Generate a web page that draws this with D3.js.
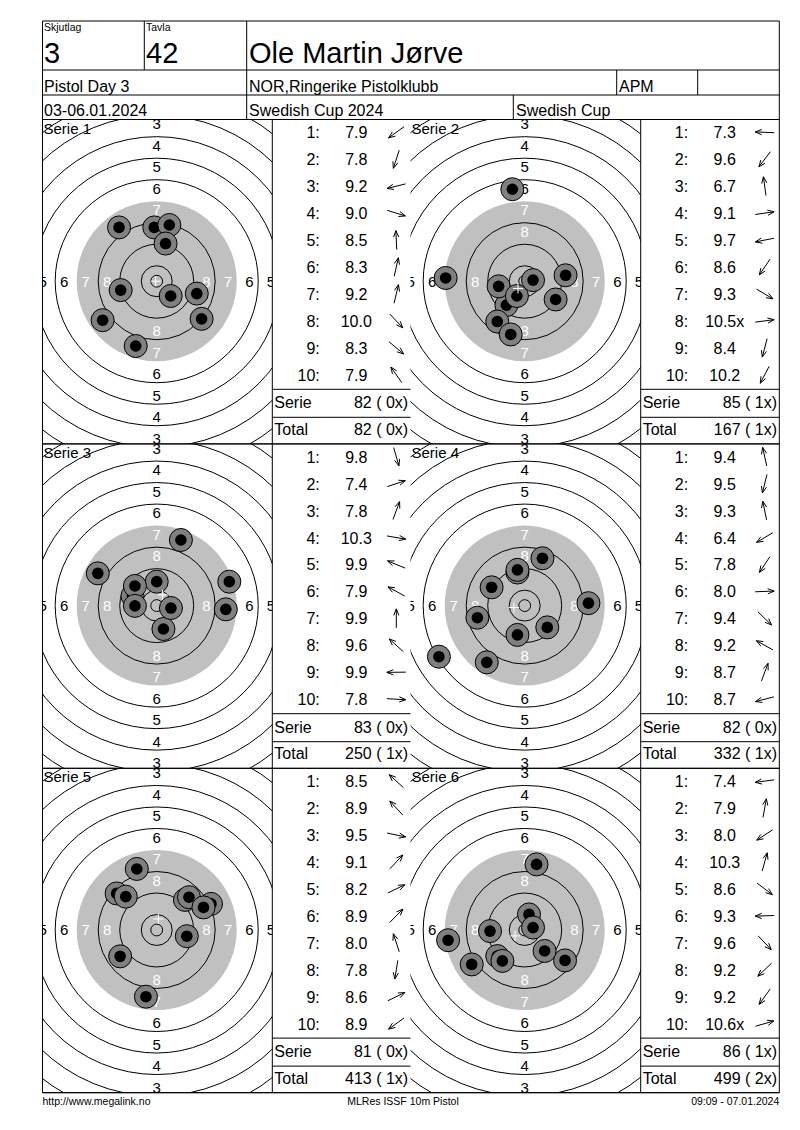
<!DOCTYPE html>
<html>
<head>
<meta charset="utf-8">
<script src="https://cdn.jsdelivr.net/npm/d3@7"></script>
<style>
body { margin: 0; background: #fff; }
svg { display: block; font-family: "Liberation Sans", Arial, sans-serif; }
</style>
</head>
<body>
<svg id="card" width="800" height="1130"></svg>
<script>
// header / footer texts
var squadLabel = "Skjutlag", squad = "3";
var laneLabel = "Tavla", lane = "42";
var shooter = "Ole Martin Jørve";
var matchName = "Pistol Day 3", club = "NOR,Ringerike Pistolklubb", shooterClass = "APM";
var dates = "03-06.01.2024", competition = "Swedish Cup 2024", cup = "Swedish Cup";
var footer = ["http://www.megalink.no", "MLRes ISSF 10m Pistol", "09:09 - 07.01.2024"];

// decimal score of each shot, per serie
var scores = [
  [7.9, 7.8, 9.2, 9.0, 8.5, 8.3, 9.2, 10.0, 8.3, 7.9],
  [7.3, 9.6, 6.7, 9.1, 9.7, 8.6, 9.3, 10.5, 8.4, 10.2],
  [9.8, 7.4, 7.8, 10.3, 9.9, 7.9, 9.9, 9.6, 9.9, 7.8],
  [9.4, 9.5, 9.3, 6.4, 7.8, 8.0, 9.4, 9.2, 8.7, 8.7],
  [8.5, 8.9, 9.5, 9.1, 8.2, 8.9, 8.0, 7.8, 8.6, 8.9],
  [7.4, 7.9, 8.0, 10.3, 8.6, 9.3, 9.6, 9.2, 9.2, 10.6]
];
// shots that are inner tens (shot numbers)
var innerTens = [[], [8], [], [], [], [10]];

// shot positions in mm from the centre (x right, y up)
var shotX = [
  [-20.1, -7.8, -13.4, 14.9, -0.9, 4.7, 3.3, 5.2, 16.7, -14.0],
  [-29.4, -6.8, -4.6, 15.2, -9.7, -10.2, 11.5, 3.1, -5.2, -2.9],
  [2.5, 27.0, 9.0, 5.3, -9.0, -21.9, 0.0, -8.1, -8.1, 25.7],
  [-2.7, -2.7, -2.7, -31.9, -14.1, 23.7, 8.4, -12.3, 6.6, -17.6],
  [-14.9, -11.5, 11.2, 10.5, 20.2, 12.0, -7.4, -4.0, 17.4, -13.6],
  [-28.5, 4.4, -19.7, 1.6, 15.0, -12.9, 7.4, -10.2, -8.3, 3.1]
];
var shotY = [
  [-14.5, -24.1, -3.3, -4.6, 20.0, 20.9, 14.0, -5.5, -14.0, 20.0],
  [1.2, -8.9, 34.2, 2.2, -1.9, -15.0, -6.8, 0.4, -19.8, -5.5],
  [-8.7, 8.9, 24.4, -0.9, 3.7, 12.0, 8.9, 7.3, -0.1, -1.4],
  [12.3, -10.9, 13.3, -19.0, -21.1, 0.9, -8.1, 6.8, 17.6, -4.5],
  [13.6, 12.4, -2.3, 11.2, 9.7, 12.2, 22.7, -24.8, 8.4, -9.8],
  [-3.8, 24.4, -12.8, 5.8, -11.3, -0.4, -7.8, -9.7, -11.5, 0.9]
];
// group centre cross, mm
var groupX = [-0.4, -2.5, 2.2, -4.0, 0.6, -3.6];
var groupY = [0.0, -2.7, 4.0, -0.7, 4.1, -2.2];

// ISSF 10m air pistol rings
var rings = [1, 2, 3, 4, 5, 6, 7, 8, 9, 10];
var ringLabels = [1, 2, 3, 4, 5, 6, 7, 8];
var blackFrom = 7;
function ringRadius(k) { return 5.75 + 8 * (10 - k); }

var svg = d3.select("#card");
var L = 42.5, R = 779.3;
var headY = [21, 70, 95, 119.5];
var panelTop = d3.scaleLinear().domain([0, 3]).range([119.5, 1092.7]);
var cols = [{t0: 42.5, t1: 272.3, b1: 410.5}, {t0: 410.5, t1: 640.7, b1: 779.3}];
var mm = d3.scaleLinear().domain([0, ringRadius(blackFrom)]).range([0, 80]);
var fmt = d3.format(".1f");

var defs = svg.append("defs");
var targets = svg.append("g");
var lines = svg.append("g").attr("stroke", "#000").attr("stroke-width", 1);
var texts = svg.append("g").attr("fill", "#000");

function hline(x1, x2, y) { lines.append("line").attr("x1", x1).attr("x2", x2).attr("y1", y).attr("y2", y); }
function vline(x, y1, y2) { lines.append("line").attr("x1", x).attr("x2", x).attr("y1", y1).attr("y2", y2); }
function txt(x, y, s, size, anchor) {
  return texts.append("text").attr("x", x).attr("y", y).attr("font-size", size)
    .attr("text-anchor", anchor || "start").text(s);
}

// header
svg.insert("rect", ":first-child").attr("width", 800).attr("height", 1130).attr("fill", "#fff");
headY.forEach(function(y) { hline(L, R, y); });
vline(L, headY[0], 1092.7); vline(R, headY[0], 1092.7);
vline(144.3, headY[0], headY[1]); vline(246.7, headY[0], headY[3]);
vline(616.7, headY[1], headY[2]); vline(697.7, headY[1], headY[2]);
vline(513.3, headY[2], headY[3]);
txt(44, 31, squadLabel, 10.5); txt(44, 63.3, squad, 29);
txt(146, 31, laneLabel, 10.5); txt(146, 63.3, lane, 29);
txt(249, 63.3, shooter, 29);
txt(44, 91.5, matchName, 16); txt(249, 91.5, club, 16); txt(619, 91.5, shooterClass, 16);
txt(44, 115.5, dates, 16); txt(249, 115.5, competition, 16); txt(516, 115.5, cup, 16);

// footer
txt(42.5, 1105, footer[0], 10.5);
txt(403, 1105, footer[1], 10.5, "middle");
txt(R, 1105, footer[2], 10.5, "end");

var total = 0, totalX = 0;
scores.forEach(function(sc, s) {
  var col = cols[s % 2];
  var row = Math.floor(s / 2);
  var y0 = panelTop(row), y1 = panelTop(row + 1);
  var cx = col.t0 + 114.2, cy = (y0 + y1) / 2 - 0.5;
  var x = d3.scaleLinear().domain([-1, 1]).range([cx - mm(1), cx + mm(1)]);
  var y = d3.scaleLinear().domain([-1, 1]).range([cy + mm(1), cy - mm(1)]);

  defs.append("clipPath").attr("id", "clip" + s).append("rect")
    .attr("x", col.t0).attr("y", y0).attr("width", col.t1 - col.t0).attr("height", y1 - y0);
  var g = targets.append("g").attr("clip-path", "url(#clip" + s + ")");

  // target
  g.append("circle").attr("cx", cx).attr("cy", cy).attr("r", mm(ringRadius(blackFrom))).attr("fill", "#c0c0c0");
  g.selectAll("circle.ring").data(rings.filter(function(k) { return k != blackFrom; }))
    .enter().append("circle").attr("class", "ring")
    .attr("cx", cx).attr("cy", cy).attr("r", function(k) { return mm(ringRadius(k)); })
    .attr("fill", "none").attr("stroke", "#000");
  g.append("circle").attr("cx", cx).attr("cy", cy).attr("r", mm(2.2)).attr("fill", "none").attr("stroke", "#000");

  var labelPos = [];
  ringLabels.forEach(function(k) {
    var d = ringRadius(k) - 3.3;
    [[-d, 0], [d, 0], [0, d], [0, -d]].forEach(function(p) { labelPos.push({k: k, x: p[0], y: p[1]}); });
  });
  g.selectAll("text.lab").data(labelPos).enter().append("text").attr("class", "lab")
    .attr("x", function(d) { return x(d.x); }).attr("y", function(d) { return y(d.y); })
    .attr("dy", "0.36em").attr("text-anchor", "middle").attr("font-size", 15)
    .attr("fill", function(d) { return d.k >= blackFrom ? "#fff" : "#000"; })
    .text(function(d) { return d.k; });

  // shots
  var shots = sc.map(function(v, i) { return {n: i + 1, v: v, x: shotX[s][i], y: shotY[s][i]}; });
  var sg = g.selectAll("g.shot").data(shots).enter().append("g").attr("class", "shot");
  sg.append("circle").attr("cx", function(d) { return x(d.x); }).attr("cy", function(d) { return y(d.y); })
    .attr("r", mm(4.28)).attr("fill", "#808080").attr("stroke", "#000");
  sg.append("circle").attr("cx", function(d) { return x(d.x); }).attr("cy", function(d) { return y(d.y); })
    .attr("r", mm(2.16)).attr("fill", "#000");

  // group centre
  var gx = x(groupX[s]), gy = y(groupY[s]);
  g.append("path").attr("d", "M" + (gx - 5) + "," + gy + "H" + (gx + 5) + "M" + gx + "," + (gy - 5) + "V" + (gy + 5))
    .attr("stroke", "#fff").attr("fill", "none");

  g.append("text").attr("x", col.t0 + 1).attr("y", y0 + 14).attr("font-size", 15).text("Serie " + (s + 1));

  // table
  vline(col.t1, y0, y1);
  hline(L, R, y1);
  hline(col.t1, col.b1, y0 + 269.8);
  hline(col.t1, col.b1, y0 + 297.8);
  var rowY = d3.scaleLinear().domain([1, 10]).range([y0 + 18.8, y0 + 261.3]);
  shots.forEach(function(d) {
    var by = rowY(d.n);
    var isX = innerTens[s].indexOf(d.n) >= 0;
    txt(col.t1 + 47.5, by, d.n + ":", 16, "end");
    txt(col.t1 + 84, by, fmt(d.v) + (isX ? "x" : ""), 16, "middle");
    // direction arrow
    var len = Math.hypot(d.x, d.y), ux = d.x / len, uy = -d.y / len;
    var ax = col.t1 + 124, ay = by - 6, h = 9.5;
    var tx = ax + ux * h, ty = ay + uy * h;
    var a = Math.atan2(uy, ux), hl = 7, ha = 0.38;
    var p = d3.path();
    p.moveTo(ax - ux * h, ay - uy * h); p.lineTo(tx, ty);
    p.moveTo(tx - hl * Math.cos(a - ha), ty - hl * Math.sin(a - ha)); p.lineTo(tx, ty);
    p.lineTo(tx - hl * Math.cos(a + ha), ty - hl * Math.sin(a + ha));
    lines.append("path").attr("d", p.toString()).attr("fill", "none");
  });
  var serie = d3.sum(sc, function(v) { return Math.floor(v); });
  var serieX = innerTens[s].length;
  total += serie; totalX += serieX;
  function pad(n) { return (n < 10 ? " " : "") + n; }
  txt(col.t1 + 2, y0 + 288.8, "Serie", 16);
  txt(col.b1 - 2.3, y0 + 288.8, serie + " (" + pad(serieX) + "x)", 16, "end").attr("xml:space", "preserve");
  txt(col.t1 + 2, y0 + 315.5, "Total", 16);
  txt(col.b1 - 2.3, y0 + 315.5, total + " (" + pad(totalX) + "x)", 16, "end").attr("xml:space", "preserve");
});
</script>
</body>
</html>
